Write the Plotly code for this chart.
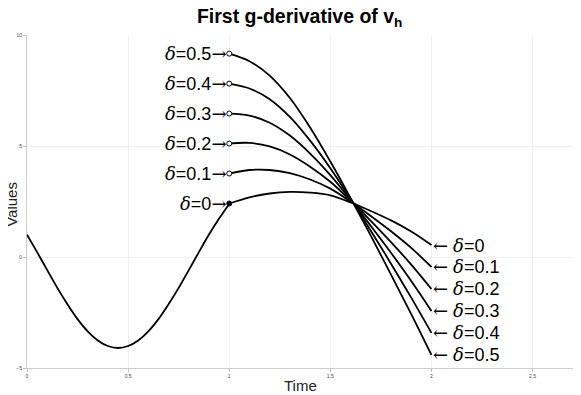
import plotly.graph_objects as go

# first part, t in [0, 1]
t1 = [0, 0.05, 0.1, 0.15, 0.2, 0.25, 0.3, 0.35, 0.4, 0.45, 0.5,
      0.55, 0.6, 0.65, 0.7, 0.75, 0.8, 0.85, 0.9, 0.95, 1.0]
v1 = [1.01, 0.22, -0.59, -1.39, -2.13, -2.80, -3.35, -3.76, -4.01, -4.10, -4.01,
      -3.76, -3.35, -2.80, -2.13, -1.39, -0.59, 0.22, 1.01, 1.73, 2.39]

# second part, t in [1, 2], one curve per delta
t2 = [1.0, 1.1, 1.2, 1.3, 1.4, 1.5, 1.6, 1.615, 1.7, 1.8, 1.9, 2.0]
deltas = ["0", "0.1", "0.2", "0.3", "0.4", "0.5"]
v_d0 = [2.41, 2.69, 2.86, 2.93, 2.90, 2.78, 2.46, 2.41, 2.07, 1.65, 1.15, 0.54]
v_d1 = [3.76, 3.92, 3.92, 3.78, 3.49, 3.08, 2.50, 2.41, 1.85, 1.16, 0.41, -0.45]
v_d2 = [5.11, 5.14, 4.98, 4.62, 4.07, 3.39, 2.54, 2.41, 1.63, 0.67, -0.34, -1.44]
v_d3 = [6.46, 6.37, 6.05, 5.47, 4.66, 3.69, 2.58, 2.41, 1.40, 0.19, -1.08, -2.43]
v_d4 = [7.81, 7.59, 7.11, 6.31, 5.24, 4.00, 2.62, 2.41, 1.18, -0.30, -1.83, -3.42]
v_d5 = [9.16, 8.82, 8.17, 7.16, 5.83, 4.30, 2.66, 2.41, 0.96, -0.79, -2.57, -4.41]
curves = [v_d0, v_d1, v_d2, v_d3, v_d4, v_d5]

x_ticks = [0, 0.5, 1, 1.5, 2, 2.5]
x_labels = ["0", "0.5", "1", "1.5", "2", "2.5"]
y_ticks = [-5, 0, 5, 10]

fig = go.Figure()

fig.add_trace(go.Scatter(x=t1, y=v1, mode="lines", line=dict(color="black", width=1.8, shape="spline"),
                         showlegend=False, hoverinfo="skip"))

for d, vals in zip(deltas, curves):
    fig.add_trace(go.Scatter(x=t2, y=vals, mode="lines", line=dict(color="black", width=1.8, shape="spline"),
                             showlegend=False, hoverinfo="skip"))

# start points at t=1
for i, vals in enumerate(curves):
    fill = "black" if i == 0 else "white"
    fig.add_trace(go.Scatter(x=[t2[0]], y=[vals[0]], mode="markers",
                             marker=dict(size=5, color=fill, line=dict(color="black", width=1)),
                             showlegend=False, hoverinfo="skip"))

dspan = '<span style="font-family:DejaVu Serif"><i>δ</i></span>'
rarr = '<span style="font-family:DejaVu Serif">→</span>'
larr = '<span style="font-family:DejaVu Serif">←</span>'

for d, vals in zip(deltas, curves):
    fig.add_annotation(x=t2[0], y=vals[0], text=dspan + "=" + d + rarr, showarrow=False,
                       xanchor="right", yanchor="middle", xshift=-1,
                       font=dict(size=18, color="black", family="Liberation Sans"))
    fig.add_annotation(x=t2[-1], y=vals[-1], text=larr + " " + dspan + "=" + d, showarrow=False,
                       xanchor="left", yanchor="middle", xshift=0,
                       font=dict(size=18, color="black", family="Liberation Sans"))

# axis titles
fig.add_annotation(x=0, y=0.49, xref="paper", yref="paper", text="Values", textangle=-90,
                   showarrow=False, xanchor="center", yanchor="middle", xshift=-15,
                   font=dict(size=15, color="#222222", family="Liberation Sans"))
fig.add_annotation(x=0.5, y=0, xref="paper", yref="paper", text="Time",
                   showarrow=False, xanchor="center", yanchor="middle", yshift=-17,
                   font=dict(size=15, color="#222222", family="Liberation Sans"))

axis_common = dict(showgrid=True, gridcolor="#efefef", gridwidth=1, zeroline=False,
                   showline=True, linecolor="#cccccc", linewidth=1, automargin=False,
                   ticks="outside", ticklen=3, tickcolor="#bbbbbb",
                   tickfont=dict(size=5, color="#444444", family="Liberation Sans"))

# the page puts the figure 8px in from the corner, so margins are shifted by that
fig.update_layout(
    width=581, height=395,
    margin=dict(l=19, r=16, t=27, b=35),
    paper_bgcolor="white", plot_bgcolor="white",
    title=dict(text="<b>First g-derivative of v<sub>h</sub></b>", x=0.502, xanchor="center",
               y=0.980, yanchor="middle", yref="container",
               font=dict(size=19.5, color="black", family="Liberation Sans")),
    xaxis=dict(range=[0, 2.7], tickvals=x_ticks, ticktext=x_labels, **axis_common),
    yaxis=dict(range=[-5, 10], tickvals=y_ticks, **axis_common),
)

fig.write_html("out.html")
